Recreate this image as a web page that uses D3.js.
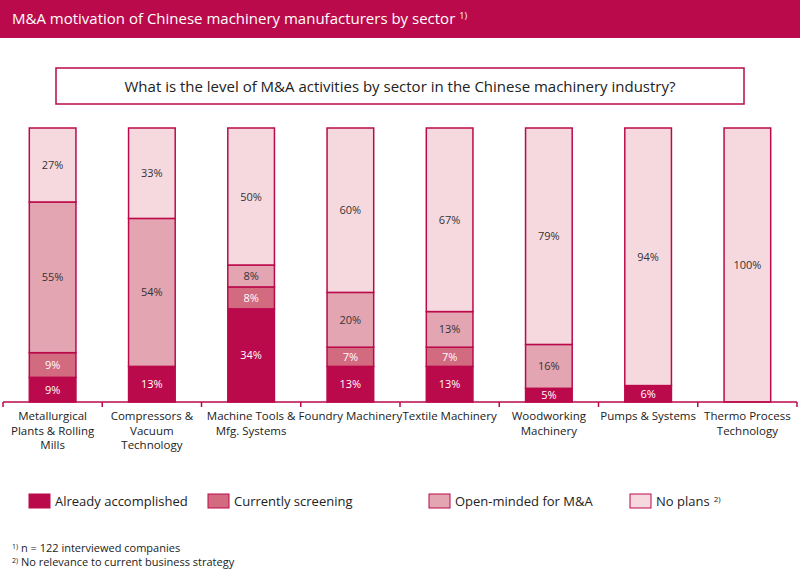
<!DOCTYPE html>
<meta charset="utf-8" />
<script src="https://d3js.org/d3.v7.js"></script>
<style>
	body { margin: 0; background: #fff; }
	text { font-family: "Open Sans", Lato, sans-serif; }
</style>
<div id="chart"></div>
<script>
	// Data
	const sectors = [
		["Metallurgical", "Plants & Rolling", "Mills"],
		["Compressors &", "Vacuum", "Technology"],
		["Machine Tools &", "Mfg. Systems"],
		["Foundry Machinery"],
		["Textile Machinery"],
		["Woodworking", "Machinery"],
		["Pumps & Systems"],
		["Thermo Process", "Technology"]
	];
	const accomplished = [9, 13, 34, 13, 13, 5, 6, 0];
	const screening = [9, 0, 8, 7, 7, 0, 0, 0];
	const openMinded = [55, 54, 8, 20, 13, 16, 0, 0];
	const noPlans = [27, 33, 50, 60, 67, 79, 94, 100];
	const seriesNames = ["Already accomplished", "Currently screening", "Open-minded for M&A", "No plans"];

	const crimson = "#bb0a4b";
	const colors = [crimson, "#d26a80", "#e3a5b2", "#f6d9df"];
	const labelColors = ["#fff", "#fff", "#333", "#333"];

	const W = 800, H = 575;
	const svg = d3.select("#chart").append("svg").attr("width", W).attr("height", H);

	// Header band
	svg.append("rect").attr("x", 0).attr("y", 0).attr("width", W).attr("height", 38).attr("fill", crimson);
	const title = svg.append("text").attr("x", 12).attr("y", 24).attr("fill", "#fff").style("font-size", "15px")
		.text("M&A motivation of Chinese machinery manufacturers by sector");
	title.append("tspan").attr("dx", 4).attr("dy", -5).style("font-size", "9px").text("1)");

	// Question box
	svg.append("rect").attr("x", 56).attr("y", 68).attr("width", 688).attr("height", 36)
		.attr("fill", "#fff").attr("stroke", crimson).attr("stroke-width", 1.5);
	svg.append("text").attr("x", 400).attr("y", 92).attr("text-anchor", "middle").attr("fill", "#222")
		.style("font-size", "15px").text("What is the level of M&A activities by sector in the Chinese machinery industry?");

	// Scales
	const x = d3.scaleBand().domain(d3.range(sectors.length)).range([3, 797]).paddingInner(0.53).paddingOuter(0.265);
	const y = d3.scaleLinear().domain([0, 100]).range([402, 128]);

	const rows = sectors.map((s, i) => ({ i, a: accomplished[i], s: screening[i], o: openMinded[i], n: noPlans[i] }));
	const stack = d3.stack().keys(["a", "s", "o", "n"])(rows);

	const g = svg.append("g");
	stack.forEach((layer, k) => {
		layer.forEach(d => {
			const v = d[1] - d[0];
			if (v <= 0) return;
			g.append("rect")
				.attr("x", x(d.data.i)).attr("y", y(d[1]))
				.attr("width", x.bandwidth()).attr("height", y(d[0]) - y(d[1]))
				.attr("fill", colors[k]).attr("stroke", crimson).attr("stroke-width", 1.5);
			g.append("text")
				.attr("x", x(d.data.i) + x.bandwidth() / 2).attr("y", (y(d[0]) + y(d[1])) / 2 + 4)
				.attr("text-anchor", "middle").attr("fill", labelColors[k]).style("font-size", "11px")
				.text(v + "%");
		});
	});

	// Axis line and ticks at boundaries
	svg.append("line").attr("x1", 3).attr("x2", 797).attr("y1", 402).attr("y2", 402).attr("stroke", crimson).attr("stroke-width", 1.5);
	const step = x.step();
	d3.range(sectors.length + 1).forEach(i => {
		const tx = x(0) + x.bandwidth() / 2 - step / 2 + i * step;
		svg.append("line").attr("x1", tx).attr("x2", tx).attr("y1", 402).attr("y2", 407).attr("stroke", crimson).attr("stroke-width", 1.5);
	});

	// Category labels
	sectors.forEach((lines, i) => {
		const t = svg.append("text").attr("text-anchor", "middle").attr("fill", "#222").style("font-size", "11.5px");
		lines.forEach((l, j) => {
			t.append("tspan").attr("x", x(i) + x.bandwidth() / 2).attr("y", 420 + j * 14.5).text(l);
		});
	});

	// Legend
	const legendX = [29, 208, 429, 630];
	seriesNames.forEach((name, k) => {
		svg.append("rect").attr("x", legendX[k]).attr("y", 494).attr("width", 21).attr("height", 14)
			.attr("fill", colors[k]).attr("stroke", crimson).attr("stroke-width", 1);
		const t = svg.append("text").attr("x", legendX[k] + 26).attr("y", 506).attr("fill", "#222")
			.style("font-size", "13px").text(name);
		if (k === 3) t.append("tspan").attr("dx", 4).attr("dy", -4).style("font-size", "8px").text("2)");
	});

	// Footnotes
	const notes = [["1)", " n = 122 interviewed companies"], ["2)", " No relevance to current business strategy"]];
	notes.forEach((n, i) => {
		const t = svg.append("text").attr("x", 12).attr("y", 552 + i * 14).attr("fill", "#222").style("font-size", "11px");
		t.append("tspan").attr("dy", -3).style("font-size", "7px").text(n[0]);
		t.append("tspan").attr("dy", 3).text(n[1]);
	});
</script>
